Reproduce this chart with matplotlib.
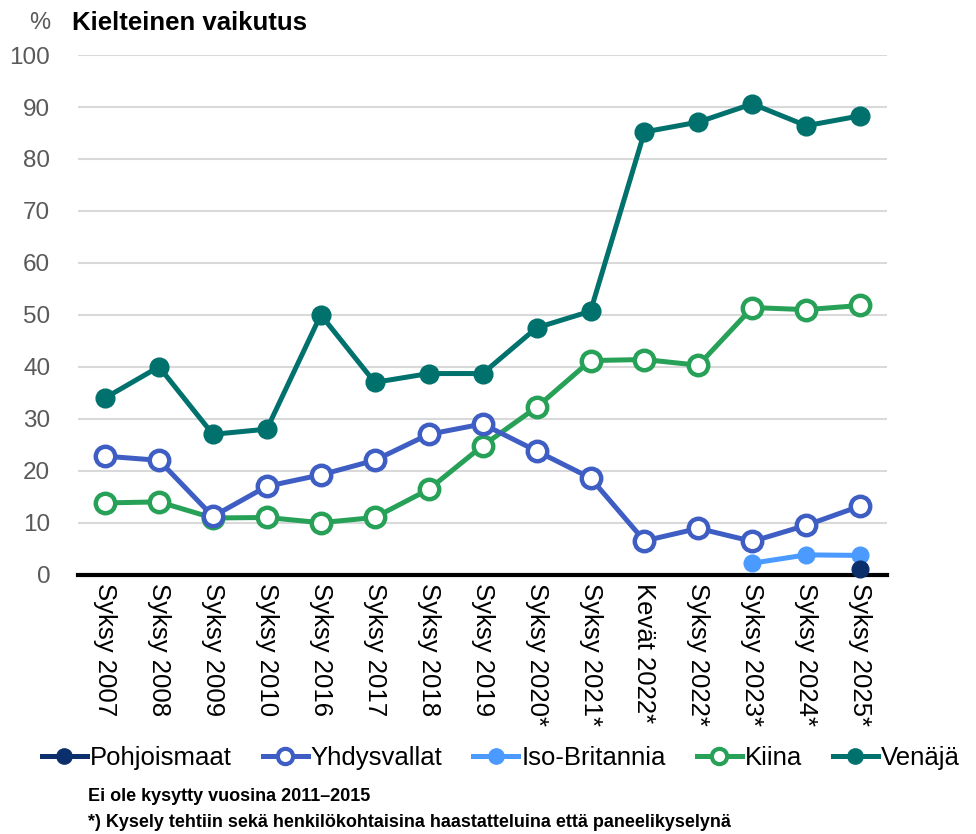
import matplotlib
matplotlib.use("Agg")
import matplotlib.pyplot as plt
from matplotlib.lines import Line2D

plt.rcParams["font.family"] = ["Liberation Sans", "DejaVu Sans"]

periods = ["Syksy 2007", "Syksy 2008", "Syksy 2009", "Syksy 2010", "Syksy 2016",
           "Syksy 2017", "Syksy 2018", "Syksy 2019", "Syksy 2020*", "Syksy 2021*",
           "Kevät 2022*", "Syksy 2022*", "Syksy 2023*", "Syksy 2024*", "Syksy 2025*"]

venaja = [34, 40, 27, 28, 50, 37, 38.7, 38.7, 47.5, 50.7, 85.2, 87.1, 90.6, 86.4, 88.3]
yhdysvallat = [22.8, 22, 11.2, 17, 19.2, 22, 27, 29, 23.8, 18.6, 6.5, 8.9, 6.4, 9.5, 13.2]
kiina = [13.8, 14, 10.9, 11, 10, 11, 16.4, 24.8, 32.2, 41.2, 41.4, 40.3, 51.4, 51.0, 51.8]
iso_britannia = [2.2, 3.8, 3.7]       # syksy 2023-2025
pohjoismaat = [1.0]                   # syksy 2025

C_VEN = "#00716c"
C_USA = "#3f5ec4"
C_UK = "#4a9aff"
C_CHN = "#27a157"
C_NOR = "#0b2f6b"

fig = plt.figure(figsize=(9.76, 8.34), dpi=100)
ax = fig.add_axes([0.080, 0.311, 0.829, 0.623])

x = list(range(len(periods)))
lw = 3.6

ax.plot(x, venaja, color=C_VEN, lw=lw, marker="o", ms=13.5, mfc=C_VEN, mec=C_VEN,
        clip_on=False, zorder=3)
ax.plot(x, kiina, color=C_CHN, lw=lw, marker="o", ms=14, mfc="white", mec=C_CHN,
        mew=3.2, clip_on=False, zorder=4)
ax.plot(x, yhdysvallat, color=C_USA, lw=lw, marker="o", ms=14, mfc="white", mec=C_USA,
        mew=3.2, clip_on=False, zorder=5)
ax.plot(x[12:], iso_britannia, color=C_UK, lw=lw, marker="o", ms=12, mfc=C_UK, mec=C_UK,
        clip_on=False, zorder=6)
ax.plot(x[14:], pohjoismaat, color=C_NOR, lw=lw, marker="o", ms=12, mfc=C_NOR, mec=C_NOR,
        clip_on=False, zorder=7)

ax.set_xlim(-0.5, len(periods) - 0.5)
ax.set_ylim(0, 100)
ax.set_yticks(range(0, 101, 10))
ax.grid(axis="y", color="#d9d9d9", lw=1.5, zorder=0)
ax.set_axisbelow(True)
for s in ["top", "right", "left"]:
    ax.spines[s].set_visible(False)
ax.spines["bottom"].set_linewidth(3)
ax.spines["bottom"].set_color("black")
ax.spines["bottom"].set_zorder(2)

ax.set_xticks(x)
ax.set_xticklabels(periods, rotation=-90, fontsize=18.5, color="black", va="top", ha="center")
ax.tick_params(axis="x", length=0, pad=6)
ax.tick_params(axis="y", length=0, pad=20, labelsize=17.5, labelcolor="#595959")

fig.text(0.030, 0.972, "%", fontsize=17, color="#595959", va="center")
fig.text(0.074, 0.972, "Kielteinen vaikutus", fontsize=18.5, fontweight="bold", va="center")

handles = [
    Line2D([], [], color=C_NOR, lw=lw, marker="o", ms=11, mfc=C_NOR, mec=C_NOR),
    Line2D([], [], color=C_USA, lw=lw, marker="o", ms=11, mfc="white", mec=C_USA, mew=3),
    Line2D([], [], color=C_UK, lw=lw, marker="o", ms=11, mfc=C_UK, mec=C_UK),
    Line2D([], [], color=C_CHN, lw=lw, marker="o", ms=11, mfc="white", mec=C_CHN, mew=3),
    Line2D([], [], color=C_VEN, lw=lw, marker="o", ms=11, mfc=C_VEN, mec=C_VEN),
]
labels = ["Pohjoismaat", "Yhdysvallat", "Iso-Britannia", "Kiina", "Venäjä"]
fig.legend(handles, labels, loc="center left", bbox_to_anchor=(0.043, 0.091), ncol=5,
           frameon=False, fontsize=18.5, handlelength=1.75, handletextpad=0.12,
           columnspacing=1.2, borderaxespad=0, borderpad=0)

fig.text(0.090, 0.045, "Ei ole kysytty vuosina 2011\u20132015", fontsize=13,
         fontweight="bold", va="center")
fig.text(0.090, 0.014, "*) Kysely tehtiin sekä henkilökohtaisina haastatteluina että paneelikyselynä",
         fontsize=13, fontweight="bold", va="center")

fig.savefig("out.png", dpi=100)
